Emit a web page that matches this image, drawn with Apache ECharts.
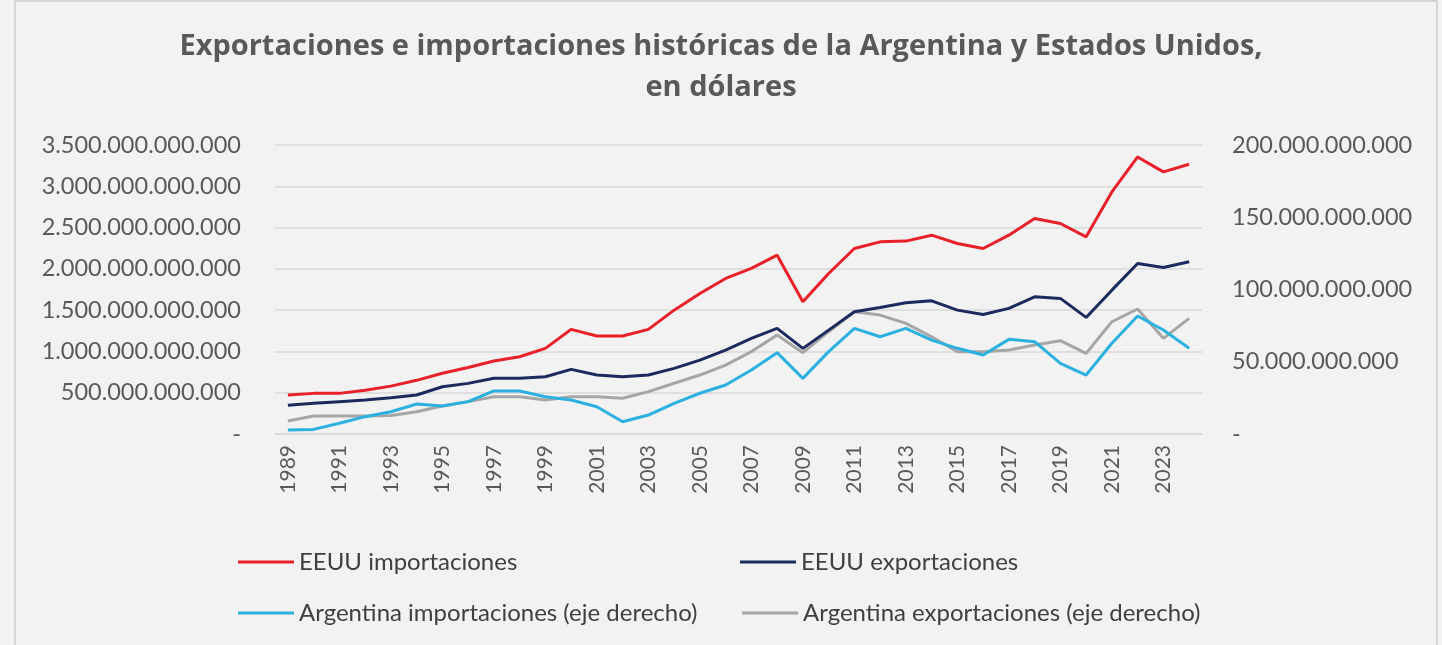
<!DOCTYPE html>
<html>
<head>
<meta charset="utf-8">
<script src="https://cdn.jsdelivr.net/npm/echarts@6/dist/echarts.min.js"></script>
<style>
html,body{margin:0;padding:0;background:#f2f2f2;}
#chart{width:1442px;height:645px;}
</style>
</head>
<body>
<div id="chart"></div>
<script>
const years = ['1989','1990','1991','1992','1993','1994','1995','1996','1997','1998','1999','2000','2001','2002','2003','2004','2005','2006','2007','2008','2009','2010','2011','2012','2013','2014','2015','2016','2017','2018','2019','2020','2021','2022','2023','2024'];

// valores en miles de millones de dólares
const eeuuImportaciones = [472,492,492,530,580,650,735,805,885,935,1037,1267,1186,1186,1267,1500,1702,1884,2005,2166,1601,1944,2247,2327,2336,2408,2307,2247,2408,2610,2549,2388,2932,3355,3174,3267];
const eeuuExportaciones = [347,371,391,411,440,472,572,613,674,674,694,783,714,694,714,795,895,1016,1158,1279,1037,1258,1480,1533,1589,1613,1500,1448,1521,1661,1642,1412,1742,2065,2017,2085];
const argImportaciones = [2.8,3.2,7.4,12.0,15.4,20.8,19.4,22.4,29.8,29.8,25.8,23.5,18.9,8.5,13.1,21.2,28.2,33.9,44.3,56.3,38.5,57.0,73.1,67.3,73.1,65.0,59.3,54.7,65.5,63.9,48.9,40.8,62.8,81.7,72.0,59.3];
const argExportaciones = [9.0,12.4,12.4,12.4,12.8,15.4,19.4,22.4,25.8,25.8,23.5,25.8,25.8,24.7,29.3,35.1,40.8,47.7,57.0,68.5,56.3,70.8,84.6,82.3,76.6,67.3,57.0,57.0,58.1,61.6,64.6,55.8,77.7,86.5,66.2,80.0];

const seriesNames = ['EEUU importaciones','EEUU exportaciones','Argentina importaciones (eje derecho)','Argentina exportaciones (eje derecho)'];
const colors = ['#e8202a','#1c2a5e','#2bb0e0','#a6a6a6'];
const BILLION = 1e9;

function fmt(v){
  if (v === 0) return '-';
  return Math.round(v).toString().replace(/\B(?=(\d{3})+(?!\d))/g, '.');
}

const chart = echarts.init(document.getElementById('chart'));
const font = 'Lato, "Open Sans", sans-serif';
const labelColor = '#595959';

function legendAt(name, left, top){
  return {
    data:[name], left:left, top:top, icon:'rect', itemWidth:56, itemHeight:3,
    textStyle:{fontFamily:font, fontSize:24, color:'#404040', padding:[0,0,0,0]}
  };
}

chart.setOption({
  backgroundColor:'#f2f2f2',
  animation:false,
  color: colors,
  title:{
    text:'Exportaciones e importaciones históricas de la Argentina y Estados Unidos,\nen dólares',
    left:716, top:21, textAlign:'center',
    textStyle:{fontFamily:'"Open Sans", Lato, sans-serif', fontWeight:'bold', fontSize:29, color:'#595959', lineHeight:41}
  },
  graphic:[{
    type:'rect', shape:{x:15, y:1, width:1422, height:650}, silent:true,
    style:{fill:'none', stroke:'#d6d6d6', lineWidth:2}
  }],
  legend:[
    legendAt(seriesNames[0], 233, 545),
    legendAt(seriesNames[1], 735, 545),
    legendAt(seriesNames[2], 233, 596),
    legendAt(seriesNames[3], 737, 596)
  ],
  grid:{left:275, right:240, top:145, bottom:211},
  xAxis:{
    type:'category', data:years, boundaryGap:true,
    axisLine:{show:true, lineStyle:{color:'#d9d9d9', width:1.5}},
    axisTick:{show:false},
    axisLabel:{rotate:90, interval:1, margin:11, fontFamily:font, fontSize:21, color:labelColor}
  },
  yAxis:[{
    type:'value', min:0, max:3500*BILLION, interval:500*BILLION,
    axisLine:{show:false}, axisTick:{show:false},
    splitLine:{lineStyle:{color:'#d9d9d9', width:1.5}},
    axisLabel:{margin:34, fontFamily:font, fontSize:23.5, color:labelColor, formatter:fmt}
  },{
    type:'value', min:0, max:200*BILLION, interval:50*BILLION,
    axisLine:{show:false}, axisTick:{show:false}, splitLine:{show:false},
    axisLabel:{margin:30, fontFamily:font, fontSize:23.5, color:labelColor, formatter:fmt}
  }],
  series:[
    {name:seriesNames[3], type:'line', yAxisIndex:1, symbol:'none', lineStyle:{width:3, color:colors[3]}, itemStyle:{color:colors[3]}, z:2,
     data:argExportaciones.map(v=>v*BILLION)},
    {name:seriesNames[2], type:'line', yAxisIndex:1, symbol:'none', lineStyle:{width:3, color:colors[2]}, itemStyle:{color:colors[2]}, z:3,
     data:argImportaciones.map(v=>v*BILLION)},
    {name:seriesNames[1], type:'line', yAxisIndex:0, symbol:'none', lineStyle:{width:3, color:colors[1]}, itemStyle:{color:colors[1]}, z:4,
     data:eeuuExportaciones.map(v=>v*BILLION)},
    {name:seriesNames[0], type:'line', yAxisIndex:0, symbol:'none', lineStyle:{width:3, color:colors[0]}, itemStyle:{color:colors[0]}, z:5,
     data:eeuuImportaciones.map(v=>v*BILLION)}
  ]
});
</script>
</body>
</html>
